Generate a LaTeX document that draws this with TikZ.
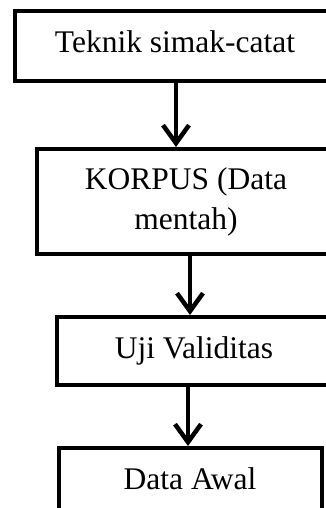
\documentclass[tikz,border=0pt]{standalone}
\usepackage{fontspec}
\setmainfont{Liberation Serif}
\usetikzlibrary{arrows.meta}

\begin{document}
\begin{tikzpicture}[x=1pt,y=-1pt,
	kotak/.style={draw=black,line width=4pt,align=center,inner sep=0pt,
		font=\fontsize{31.5}{40}\selectfont},
	satubaris/.style={text height=22pt,text depth=8pt},
	panah/.style={line width=4.5pt,-{Straight Barb[length=18pt,width=26pt]}}]
	\useasboundingbox (0,0) rectangle (325,508);
	
	%boxes
	\node[kotak,satubaris,minimum width=320pt,minimum height=70pt] (teknik) at (175,46) {Teknik simak-catat};
	\node[kotak,minimum width=298pt,minimum height=105pt] (korpus) at (186,201.5) {KORPUS (Data\\mentah)};
	\node[kotak,satubaris,minimum width=274pt,minimum height=68pt] (uji) at (194,351) {Uji Validitas};
	\node[kotak,satubaris,minimum width=263pt,minimum height=68pt] (awal) at (190,482) {Data Awal};
	
	%arrows
	\draw[panah] ([xshift=1pt]teknik.south) -- ([xshift=-10pt]korpus.north);
	\draw[panah] ([xshift=4pt]korpus.south) -- ([xshift=-4pt]uji.north);
	\draw[panah] ([xshift=-6pt]uji.south) -- ([xshift=-2pt]awal.north);
\end{tikzpicture}
\end{document}
